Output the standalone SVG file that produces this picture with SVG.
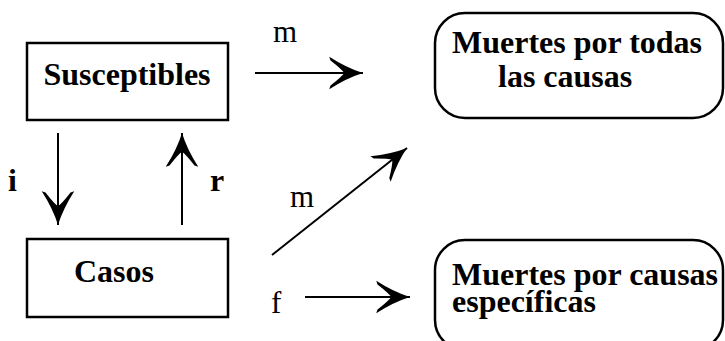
<svg xmlns="http://www.w3.org/2000/svg" width="725" height="341" viewBox="0 0 725 341">
<style>
.box{fill:#fff;stroke:#000;stroke-width:2.5}
.t{font-family:"Liberation Serif","Times New Roman",serif;font-weight:bold;font-size:32px;fill:#000}
.l{font-family:"Liberation Serif","Times New Roman",serif;font-size:31px;fill:#000}
.c{stroke:#000;stroke-width:2;fill:none;marker-end:url(#ah)}
</style>
<defs>
<marker id="ah" markerUnits="userSpaceOnUse" markerWidth="40" markerHeight="40" refX="0" refY="0" viewBox="-30 -15 32 30" orient="auto" overflow="visible">
<path d="M0,0 Q-13,-4 -27,-13 L-26,-10 Q-17,-3 -15,0 Q-17,3 -26,10 L-27,13 Q-13,4 0,0 Z" fill="#000"/>
</marker>
</defs>
<g id="susceptibles">
<rect class="box" x="27" y="43" width="201" height="77"/>
<text class="t" x="127" y="85" text-anchor="middle">Susceptibles</text>
</g>
<g id="casos">
<rect class="box" x="27" y="239" width="201" height="78"/>
<text class="t" x="114" y="282" text-anchor="middle">Casos</text>
</g>
<g id="muertes-todas">
<rect class="box" x="435" y="13" width="288" height="105" rx="30"/>
<text class="t" x="452" y="53">Muertes por todas</text>
<text class="t" x="498" y="87">las causas</text>
</g>
<g id="muertes-especificas">
<rect class="box" x="435" y="240" width="288" height="110" rx="30"/>
<text class="t" x="452" y="285">Muertes por causas</text>
<text class="t" x="452" y="312">específicas</text>
</g>
<g id="connectors">
<line class="c" x1="58" y1="133" x2="58" y2="225"/>
<line class="c" x1="182" y1="225" x2="182" y2="133"/>
<line class="c" x1="255" y1="73" x2="363" y2="73"/>
<line class="c" x1="272" y1="255" x2="407" y2="148"/>
<line class="c" x1="305" y1="297" x2="410" y2="297"/>
<text class="t" x="8" y="191">i</text>
<text class="t" x="210" y="191">r</text>
<text class="l" x="273" y="42">m</text>
<text class="l" x="290" y="207">m</text>
<text class="l" x="271" y="313">f</text>
</g>
</svg>
